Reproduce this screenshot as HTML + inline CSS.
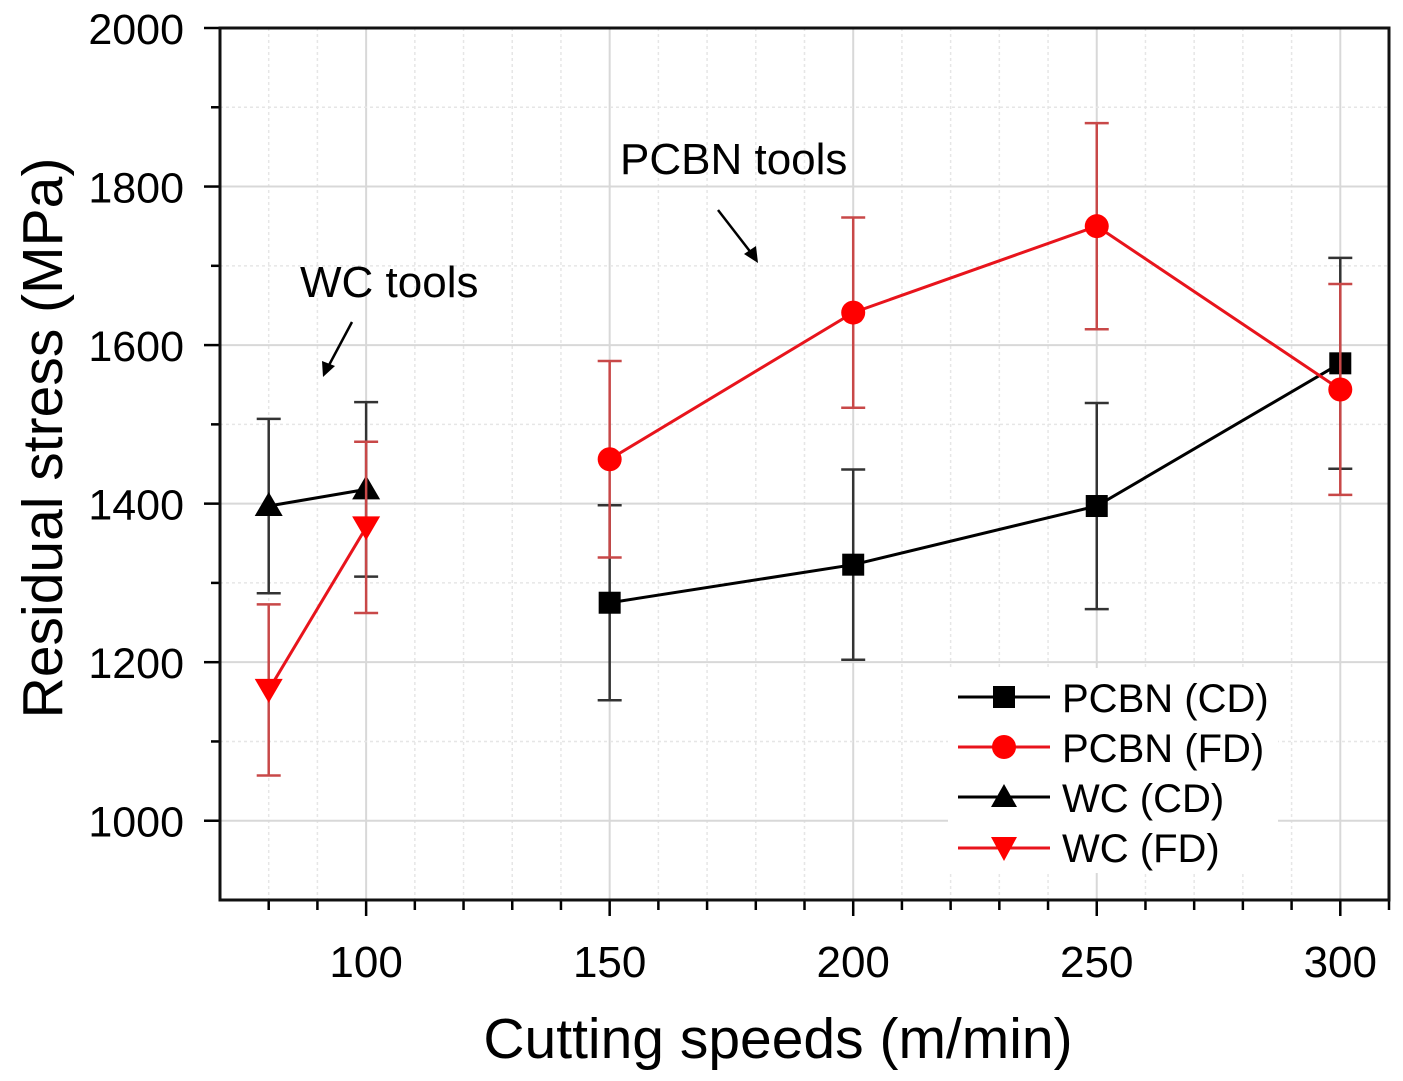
<!DOCTYPE html>
<html><head><meta charset="utf-8"><style>
html,body{margin:0;padding:0;background:#fff;}
svg{display:block;font-family:"Liberation Sans",Arial,sans-serif;}
</style></head><body>
<svg id="chart" width="1403" height="1081" viewBox="0 0 1403 1081">
<g id="grid"></g>
<g id="axes"></g>
<g id="series"></g>
<g>
  <rect x="948" y="668" width="330" height="205" fill="#fff"/>
  <g>
    <line x1="958" y1="697" x2="1050" y2="697" stroke="#000" stroke-width="3"/>
    <rect x="993" y="686" width="22" height="22" fill="#000"/>
    <text x="1062" y="712" font-size="40">PCBN (CD)</text></g>
  <g>
    <line x1="958" y1="747" x2="1050" y2="747" stroke="#e8141c" stroke-width="3"/>
    <circle cx="1004" cy="747" r="12" fill="#f00"/>
    <text x="1062" y="762" font-size="40">PCBN (FD)</text></g>
  <g>
    <line x1="958" y1="797" x2="1050" y2="797" stroke="#000" stroke-width="3"/>
    <polygon points="1004,784 1017,807 991,807" fill="#000"/>
    <text x="1062" y="812" font-size="40">WC (CD)</text></g>
  <g>
    <line x1="958" y1="848" x2="1050" y2="848" stroke="#e8141c" stroke-width="3"/>
    <polygon points="991,837 1017,837 1004,861" fill="#f00"/>
    <text x="1062" y="862" font-size="40">WC (FD)</text></g>
</g>
<g>
  <text x="620" y="174" font-size="44">PCBN tools</text>
  <line x1="718" y1="210" x2="752" y2="254" stroke="#000" stroke-width="2.5"/>
  <polygon points="758,263 744,254 756,246" fill="#000"/>
</g>
<g>
  <text x="300" y="297" font-size="44">WC tools</text>
  <line x1="352" y1="322" x2="328" y2="367" stroke="#000" stroke-width="2.5"/>
  <polygon points="323,377 322,361 335,366" fill="#000"/>
</g>
<text x="778" y="1058" font-size="57" text-anchor="middle">Cutting speeds (m/min)</text>
<text transform="translate(62,438) rotate(-90)" font-size="57" text-anchor="middle">Residual stress (MPa)</text>
</svg>
<script>
const categoriesWC = [80, 100];
const categoriesPCBN = [150, 200, 250, 300];
const wcCD = [1397, 1418];
const wcCDErr = [110, 110];
const wcFD = [1165, 1370];
const wcFDErr = [108, 108];
const pcbnCD = [1275, 1323, 1397, 1577];
const pcbnCDErr = [123, 120, 130, 133];
const pcbnFD = [1456, 1641, 1750, 1544];
const pcbnFDErr = [124, 120, 130, 133];
const xTickLabels = [100, 150, 200, 250, 300];
const yTickLabels = [1000, 1200, 1400, 1600, 1800, 2000];

const L=220,R=1389,T=28,B=900,XMIN=70,XMAX=310,YMIN=900,YMAX=2000;
const xs=v=>L+(v-XMIN)/(XMAX-XMIN)*(R-L);
const ys=v=>B-(v-YMIN)/(YMAX-YMIN)*(B-T);
const NS='http://www.w3.org/2000/svg';
function mk(tag,attrs,parent){const e=document.createElementNS(NS,tag);for(const k in attrs)e.setAttribute(k,attrs[k]);parent.appendChild(e);return e;}
const grid=document.getElementById('grid'),axes=document.getElementById('axes'),series=document.getElementById('series');

for(let v=80;v<=XMAX;v+=10){
  const g=mk('line',{x1:xs(v),x2:xs(v),y1:T,y2:B,stroke:v%50===0?'#d8d8d8':'#e6e6e6','stroke-width':v%50===0?2:1.5,'stroke-dasharray':v%50===0?'':'3,3'},grid);
  
  
  const t=mk('line',{x1:xs(v),x2:xs(v),y1:B,y2:B+(v%50===0?16:10),stroke:'#000','stroke-width':2.5},axes);
  
  
}
for(let v=1000;v<YMAX;v+=100){
  const g=mk('line',{x1:L,x2:R,y1:ys(v),y2:ys(v),stroke:v%200===0?'#d8d8d8':'#e6e6e6','stroke-width':v%200===0?2:1.5,'stroke-dasharray':v%200===0?'':'3,3'},grid);
  
  
}
for(let v=1000;v<=YMAX;v+=100){
  const t=mk('line',{x1:L-(v%200===0?16:9),x2:L,y1:ys(v),y2:ys(v),stroke:'#000','stroke-width':2.5},axes);
  
  
}
const frame=mk('rect',{x:L,y:T,width:R-L,height:B-T,fill:'none',stroke:'#111','stroke-width':3},axes);


xTickLabels.forEach(v=>{
  const t=mk('text',{x:xs(v),y:977,'font-size':44,'text-anchor':'middle'},axes);t.textContent=v;
  
  
});
yTickLabels.forEach(v=>{
  const t=mk('text',{x:184,y:ys(v)+16,'font-size':43,'text-anchor':'end'},axes);t.textContent=v;
  
  
});

function draw(name,cats,vals,errs,color,errColor,marker){
  const g=mk('g',{},series);
  
  
  cats.forEach((c,i)=>{
    const x=xs(c),y1=ys(vals[i]+errs[i]),y2=ys(vals[i]-errs[i]);
    const e=mk('path',{d:`M${x},${y1}V${y2}M${x-12},${y1}H${x+12}M${x-12},${y2}H${x+12}`,stroke:errColor,'stroke-width':2.5,fill:'none'},g);
    
    
  });
  const p=mk('polyline',{points:cats.map((c,i)=>xs(c)+','+ys(vals[i])).join(' '),fill:'none',stroke:color,'stroke-width':3},g);
  
  
  cats.forEach((c,i)=>{
    const x=xs(c),y=ys(vals[i]);let m;
    if(marker==='sq')m=mk('rect',{x:x-11,y:y-11,width:22,height:22,fill:'#000'},g);
    else if(marker==='ci')m=mk('circle',{cx:x,cy:y,r:12,fill:'#f00'},g);
    else if(marker==='up')m=mk('polygon',{points:`${x},${y-14} ${x+14},${y+10} ${x-14},${y+10}`,fill:'#000'},g);
    else m=mk('polygon',{points:`${x-14},${y-11} ${x+14},${y-11} ${x},${y+13}`,fill:'#f00'},g);
    
    
  });
}
draw('series-wc-cd',categoriesWC,wcCD,wcCDErr,'#000','#333','up');
draw('series-wc-fd',categoriesWC,wcFD,wcFDErr,'#e8141c','#c84848','dn');
draw('series-pcbn-cd',categoriesPCBN,pcbnCD,pcbnCDErr,'#000','#333','sq');
draw('series-pcbn-fd',categoriesPCBN,pcbnFD,pcbnFDErr,'#e8141c','#c84848','ci');
</script>
</body></html>
